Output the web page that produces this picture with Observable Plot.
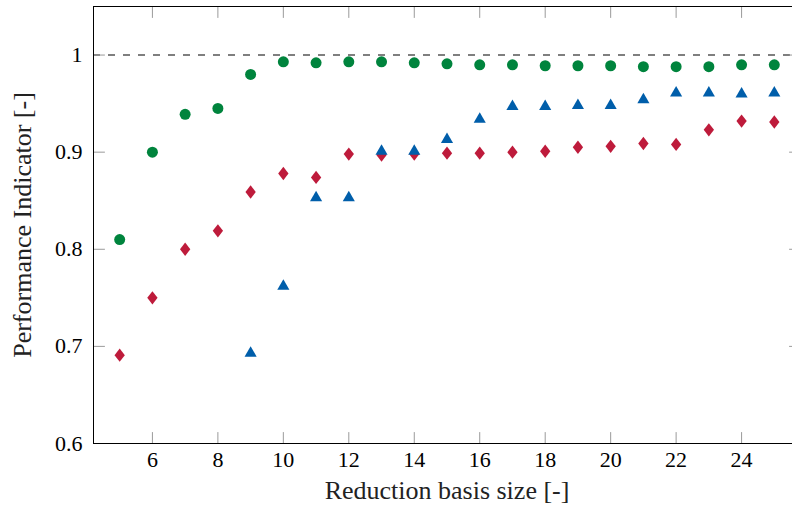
<!DOCTYPE html>
<html><head><meta charset="utf-8">
<script src="https://cdn.jsdelivr.net/npm/d3@7"></script>
<script src="https://cdn.jsdelivr.net/npm/@observablehq/plot@0.6"></script>
<style>html,body{margin:0;padding:0;background:#fff;overflow:hidden}</style>
</head><body><div id="chart"></div>
<script>
// Data
const basisSize = [5,6,7,8,9,10,11,12,13,14,15,16,17,18,19,20,21,22,23,24,25];
const seriesCircle = [0.810,0.900,0.939,0.945,0.980,0.993,0.992,0.993,0.993,0.992,0.991,0.990,0.990,0.989,0.989,0.989,0.988,0.988,0.988,0.990,0.990];
const seriesDiamond = [0.691,0.750,0.800,0.819,0.859,0.878,0.874,0.898,0.897,0.898,0.899,0.899,0.900,0.901,0.905,0.906,0.909,0.908,0.923,0.932,0.931];
const basisSizeTriangle = [9,10,11,12,13,14,15,16,17,18,19,20,21,22,23,24,25];
const seriesTriangle = [0.693,0.762,0.853,0.853,0.901,0.901,0.913,0.934,0.947,0.947,0.948,0.948,0.954,0.961,0.961,0.960,0.961];
const xTicks = [6,8,10,12,14,16,18,20,22,24];
const yTicks = [0.6,0.7,0.8,0.9,1];
const referenceLevel = [1];
const xLabel = "Reduction basis size [-]";
const yLabel = "Performance Indicator [-]";

const colGreen = "#00843d", colRed = "#be1b3b", colBlue = "#005eaa";

const toRows = (xs, ys) => xs.map((x, i) => ({x, y: ys[i]}));
const circleRows = toRows(basisSize, seriesCircle);
const diamondRows = toRows(basisSize, seriesDiamond);
const triangleRows = toRows(basisSizeTriangle, seriesTriangle);

const tallDiamond = {
  draw(ctx, size) {
    const r = Math.sqrt(size / Math.PI);
    const hh = r, hw = 0.77 * r;
    ctx.moveTo(0, -hh); ctx.lineTo(hw, 0); ctx.lineTo(0, hh); ctx.lineTo(-hw, 0); ctx.closePath();
  }
};
const tickLine = { draw(ctx, l) { ctx.moveTo(0, 0); ctx.lineTo(0, -l); } };

const serif = "'Liberation Serif', 'Times New Roman', serif";
const tickStroke = "#9a9a9a";
const tickOpts = {length: 11, anchor: "start", shape: tickLine, stroke: tickStroke, strokeWidth: 1};
const chart = Plot.plot({
  width: 792, height: 515,
  marginLeft: 93, marginRight: -8, marginTop: 6, marginBottom: 72,
  x: {domain: [4.2, 25.8]},
  y: {domain: [0.6, 1.05]},
  style: {fontFamily: serif, background: "white", color: "black"},
  marks: [
    Plot.ruleY(referenceLevel, {stroke: "#555", strokeWidth: 1.5, strokeDasharray: "7,8"}),
    Plot.dot(diamondRows, {x: "x", y: "y", symbol: tallDiamond, r: 6.7, fill: colRed, stroke: "none"}),
    Plot.dot(triangleRows, {x: "x", y: "y", symbol: "triangle", r: 4.5, fill: colBlue, stroke: "none"}),
    Plot.dot(circleRows, {x: "x", y: "y", symbol: "circle", r: 5.5, fill: colGreen, stroke: "none"}),
    Plot.vectorX(xTicks, {x: d => d, frameAnchor: "bottom", rotate: 0, ...tickOpts}),
    Plot.vectorX(xTicks, {x: d => d, frameAnchor: "top", rotate: 180, ...tickOpts}),
    Plot.vectorY(yTicks, {y: d => d, frameAnchor: "left", rotate: 90, ...tickOpts}),
    Plot.vectorY(yTicks, {y: d => d, frameAnchor: "right", rotate: -90, ...tickOpts}),
    Plot.frame({stroke: "black", strokeWidth: 1}),
    Plot.axisX(xTicks, {tickSize: 0, tickPadding: 8, fontSize: 22, label: null, fill: "black", fontFamily: serif}),
    Plot.axisY(yTicks, {tickSize: 0, tickPadding: 11, fontSize: 22, label: null, fill: "black", fontFamily: serif, tickFormat: d => String(d)}),
    Plot.text([xLabel], {text: d => d, frameAnchor: "bottom", textAnchor: "middle", dy: 55, fontSize: 26, fill: "#222", fontFamily: serif}),
    Plot.text([yLabel], {text: d => d, frameAnchor: "left", textAnchor: "middle", dx: -71, rotate: -90, fontSize: 26, fill: "#222", fontFamily: serif})
  ]
});
document.getElementById("chart").appendChild(chart);
</script>
</body></html>
